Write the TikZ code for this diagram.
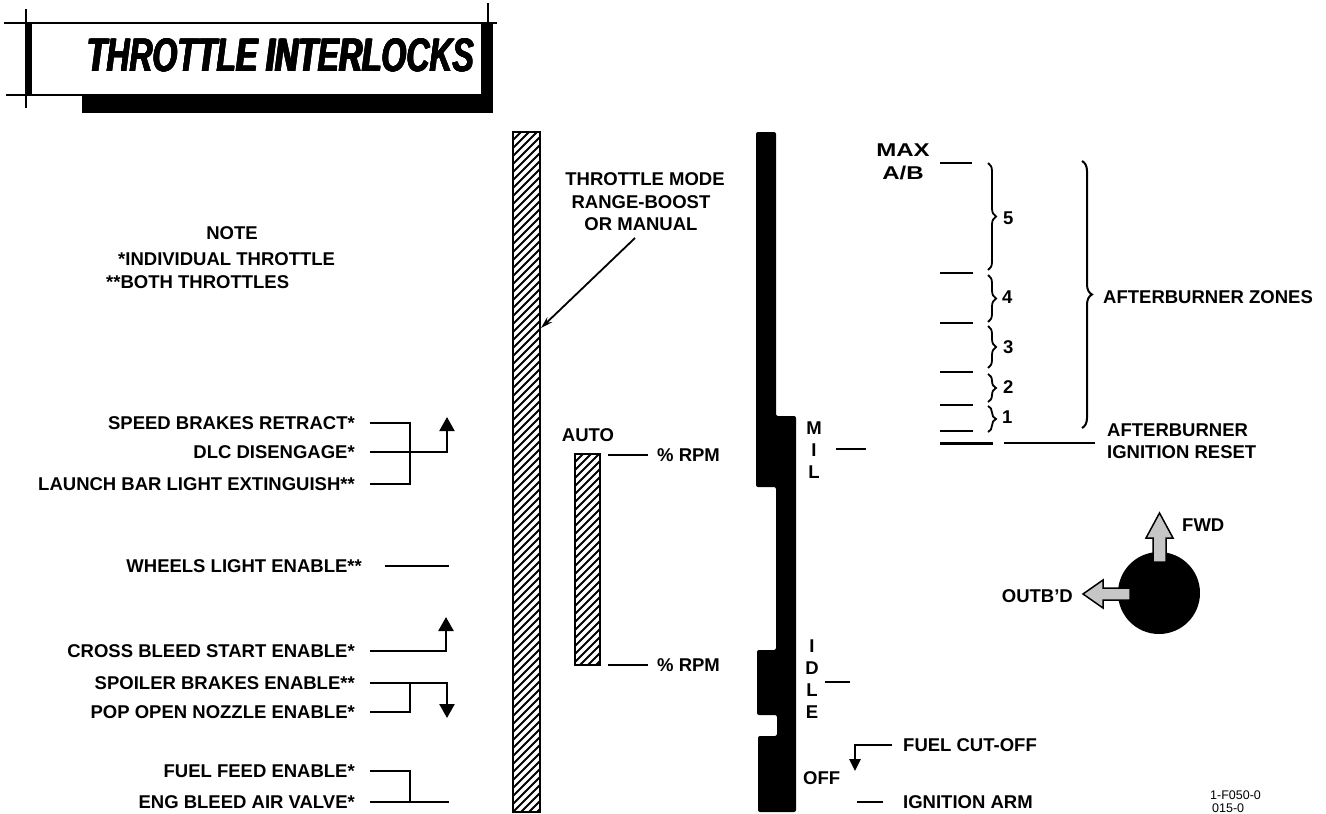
\documentclass[tikz,border=0pt]{standalone}
\usepackage{fontspec}
\setmainfont{Liberation Sans}
\usetikzlibrary{arrows.meta,decorations.pathreplacing}
\tikzset{
  lab/.style={font=\bfseries\fontsize{18.5}{20}\selectfont, inner sep=0pt, text height=13pt, text depth=0pt},
  smalltxt/.style={font=\fontsize{12.5}{14}\selectfont, inner sep=0pt, text height=9pt, text depth=0pt},
  conn/.style={line width=2.5pt},
  tickmark/.style={line width=2.6pt},
  uptip/.style={-{Triangle[width=15pt,length=14pt]}},
  fueltip/.style={-{Triangle[width=11pt,length=12pt]}},
  hatchline/.style={line width=1.8pt},
  hatchbox/.style={draw, line width=2pt, inner sep=0pt},
  smallbrace/.style={decorate, decoration={brace, amplitude=8pt}, line width=1.8pt},
  bigbrace/.style={decorate, decoration={brace, amplitude=10pt}, line width=2pt},
  dirarrow/.style={fill=gray!45, draw=black, line width=1.5pt, line join=miter},
  titletxt/.style={inner sep=0pt},
}
\newcommand{\titletext}{\scalebox{0.68}[1]{\fontsize{47}{50}\selectfont\bfseries\itshape THROTTLE INTERLOCKS}}
\begin{document}
\begin{tikzpicture}[x=1pt,y=-1pt]
\useasboundingbox (0,0) rectangle (1326,814);
% ---------- title frame ----------
\draw[line width=2.5pt] (4,23) -- (497,23);
\draw[line width=2.5pt] (6,95) -- (482,95);
\draw[line width=2pt] (26,9) -- (26,108);
\fill (25,24) rectangle (32,96);
\draw[line width=2pt] (488,3) -- (488,24);
\fill (82,94) rectangle (493,113);
\fill (481,22) rectangle (493,113);
\foreach \dx/\dy in {0.8/0,0/0.8,0.8/0.8,1.6/0,1.6/0.8} \node[titletxt] at ({280+\dx},{55+\dy}) {\titletext};
\node[titletxt] (title) at (280,55) {\titletext};
% ---------- note ----------
\node[lab] (note) at (232,233) {NOTE};
\node[lab, anchor=west] (note1) at (118,259) {*INDIVIDUAL THROTTLE};
\node[lab, anchor=west] (note2) at (106,282) {**BOTH THROTTLES};
% ---------- left labels ----------
\node[lab, anchor=east] (speed) at (355,423) {SPEED BRAKES RETRACT*};
\node[lab, anchor=east] (dlc) at (355,452) {DLC DISENGAGE*};
\node[lab, anchor=east] (launch) at (355,484) {LAUNCH BAR LIGHT EXTINGUISH**};
\node[lab, anchor=east] (wheels) at (362,566) {WHEELS LIGHT ENABLE**};
\node[lab, anchor=east] (cross) at (355,651) {CROSS BLEED START ENABLE*};
\node[lab, anchor=east] (spoiler) at (355,683) {SPOILER BRAKES ENABLE**};
\node[lab, anchor=east] (pop) at (355,712) {POP OPEN NOZZLE ENABLE*};
\node[lab, anchor=east] (fuel) at (355,771) {FUEL FEED ENABLE*};
\node[lab, anchor=east] (eng) at (355,802) {ENG BLEED AIR VALVE*};
% connectors
\draw[conn] ([xshift=15pt]speed.east) -- (410,423) |- ([xshift=15pt]launch.east);
\draw[line width=2pt, uptip] ([xshift=15pt]dlc.east) -| (447,417);
\draw[conn] ([xshift=23pt]wheels.east) -- ++(64,0);
\draw[conn, uptip] ([xshift=15pt]cross.east) -| (446,617);
\draw[conn, uptip] ([xshift=15pt]spoiler.east) -| (447,718);
\draw[conn] (410,683) |- ([xshift=15pt]pop.east);
\draw[conn] ([xshift=15pt]fuel.east) -| (410,802);
\draw[conn] ([xshift=15pt]eng.east) -- (449,802);
% ---------- main hatched throttle bar ----------
\begin{scope}
  \clip (513,132) rectangle (540,812);
  \foreach \k in {0,...,90} \draw[hatchline] (513,{132+8*\k}) -- ++(27,-27);
\end{scope}
\node[hatchbox, minimum width=27pt, minimum height=680pt] (thr) at (526.5,472) {};
% ---------- auto bar ----------
\begin{scope}
  \clip (575,454) rectangle (600,665);
  \foreach \k in {0,...,30} \draw[hatchline] (575,{454+8*\k}) -- ++(25,-25);
\end{scope}
\node[hatchbox, minimum width=25pt, minimum height=211pt] (autobar) at (587.5,559.5) {};
\node[lab] (auto) at (588,435) {AUTO};
\node[lab, anchor=west] (rpm1) at (657,455) {\% RPM};
\node[lab, anchor=west] (rpm2) at (657,665) {\% RPM};
\draw[conn] ([xshift=-9pt]rpm1.west) -- (608,455);
\draw[conn] ([xshift=-9pt]rpm2.west) -- (608,665);
% ---------- throttle mode ----------
\node[lab] (mode1) at (645,179) {THROTTLE MODE};
\node[lab] (mode2) at (641,202) {RANGE-BOOST};
\node[lab] (mode3) at (641,224) {OR MANUAL};
\draw[line width=1.8pt, -{Stealth[length=12pt,width=7pt]}] (635,238) -- (thr.east |- 0,328);
% ---------- black throttle ----------
\fill[rounded corners=2pt] (756,132) -- (776,132) -- (776,416) -- (796,416) -- (796,812)
  -- (758,812) -- (758,736) -- (777,736) -- (777,715) -- (757,715) -- (757,650)
  -- (776,650) -- (776,487) -- (756,487) -- cycle;
\node[lab] (m1) at (814,428) {M};
\node[lab] (m2) at (814,450) {I};
\node[lab] (m3) at (814,472) {L};
\draw[conn] (836,449) -- (866,449);
\node[lab] (i1) at (812,646) {I};
\node[lab] (i2) at (812,668) {D};
\node[lab] (i3) at (812,690) {L};
\node[lab] (i4) at (812,712) {E};
\draw[conn] (825,682) -- (850,682);
\node[lab, anchor=west] (off) at (803,778) {OFF};
\node[lab, anchor=west] (fuelcut) at (903,745) {FUEL CUT-OFF};
\draw[conn, fueltip] ([xshift=-11pt]fuelcut.west) -| (855,771);
\node[lab, anchor=west] (ign) at (903,802) {IGNITION ARM};
\draw[conn] ([xshift=-20pt]ign.west) -- ++(-26,0);
% ---------- afterburner scale ----------
\node[lab] (max) at (903,150) {\scalebox{1.3}[1]{MAX}};
\node[lab] (ab) at (903,173) {\scalebox{1.3}[1]{A/B}};
\draw[line width=1.8pt] (940,163) -- (972,163);
\foreach \yy in {273,323,372,405,431} \draw[tickmark] (940,\yy) -- (973,\yy);
\draw[line width=3pt] (940,443) -- (993,443);
\draw[line width=1.6pt] (1004,443) -- (1095,443);
\draw[smallbrace] (988,163) -- (988,270);
\draw[smallbrace] (988,275) -- (988,322);
\draw[smallbrace] (988,326) -- (988,368);
\draw[smallbrace] (988,374) -- (988,402);
\draw[smallbrace] (988,406) -- (988,432);
\node[lab, anchor=west] (z5) at (1003,218) {5};
\node[lab, anchor=west] (z4) at (1002,297) {4};
\node[lab, anchor=west] (z3) at (1003,347) {3};
\node[lab, anchor=west] (z2) at (1003,387) {2};
\node[lab, anchor=west] (z1) at (1002,417) {1};
\draw[bigbrace] (1082,161) -- (1082,428);
\node[lab, anchor=west] (zones) at (1103,297) {AFTERBURNER ZONES};
\node[lab, anchor=west] (reset1) at (1107,430) {AFTERBURNER};
\node[lab, anchor=west] (reset2) at (1107,452) {IGNITION RESET};
% ---------- direction ball ----------
\node[circle, fill=black, minimum size=82pt, inner sep=0pt] (ball) at (1159,593) {};
\draw[dirarrow] (1153,562) -- (1153,538) -- (1146,538) -- (1159.5,513) -- (1173,538) -- (1166,538) -- (1166,562) -- cycle;
\draw[dirarrow] (1130,588) -- (1103,588) -- (1103,580) -- (1083,594) -- (1103,608) -- (1103,600) -- (1130,600) -- cycle;
\node[lab, anchor=west] (fwd) at (1182,525) {FWD};
\node[lab, anchor=east] (outbd) at (1073,596) {OUTB'D};
% ---------- figure id ----------
\node[smalltxt, anchor=west] (id1) at (1210,795) {1-F050-0};
\node[smalltxt, anchor=west] (id2) at (1212,808) {015-0};
\end{tikzpicture}
\end{document}
